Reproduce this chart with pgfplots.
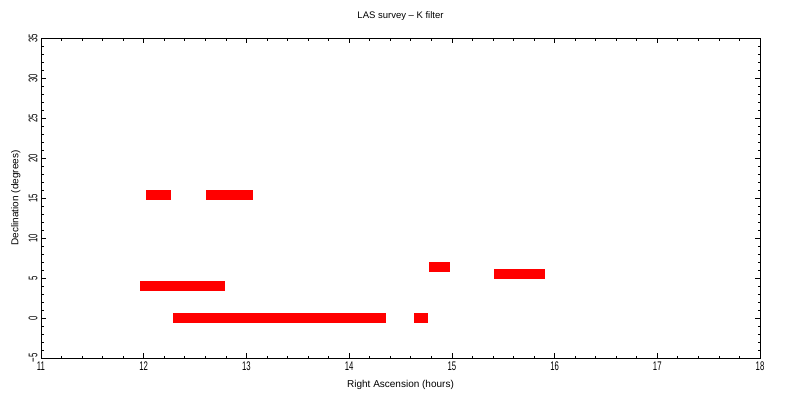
\documentclass[border=0pt]{standalone}
\usepackage{fontspec}
\setmainfont{Liberation Sans}
\newfontfamily\narrowfont[FakeStretch=0.62]{Liberation Sans}
\usepackage{pgfplots}
\pgfplotsset{compat=1.18}

\begin{document}
\begin{tikzpicture}
% bounding box matches the 800x400 reference, axis box at (41,38)-(760,358)
\path[use as bounding box] (-41pt,-42pt) rectangle (759pt,358pt);
\begin{axis}[
    scale only axis,
    width=719pt, height=320pt,
    xmin=11, xmax=18, ymin=-5, ymax=35,
    xtick={11,12,...,18},
    xticklabel={\pgfmathprintnumber[assume math mode=true]{\tick}},
    ytick={-5,0,5,10,15,20,25,30,35},
    yticklabels={−5,0,5,10,15,20,25,30,35},
    minor x tick num=4, minor y tick num=4,
    major tick length=5pt, minor tick length=2.5pt,
    tick align=inside,
    tick style={black, line width=0.7pt},
    axis line style={line width=0.8pt},
    xticklabel style={font=\narrowfont\fontsize{12.5}{12.5}\selectfont, yshift=0pt},
    yticklabel style={font=\narrowfont\fontsize{12.5}{12.5}\selectfont, rotate=90, anchor=south, xshift=0pt},
    title={LAS survey -- K filter},
    title style={font=\fontsize{9.5}{9.5}\selectfont, yshift=8pt},
    xlabel={Right Ascension (hours)},
    xlabel style={font=\fontsize{10}{10}\selectfont, at={(axis description cs:0.5,-0.084)}, anchor=center},
    ylabel={Declination (degrees)},
    ylabel style={font=\fontsize{10}{10}\selectfont, at={(axis description cs:-0.035,0.5)}, anchor=center},
  ]
  % observed fields, one row per pointing
  \addplot[only marks, mark=square*, mark size=4.5pt, mark options={fill=red, draw=red}] table {
    x     y
    12.07 15.4
    12.12 15.4
    12.17 15.4
    12.21 15.4
    12.65 15.4
    12.70 15.4
    12.75 15.4
    12.80 15.4
    12.85 15.4
    12.90 15.4
    12.95 15.4
    13.01 15.4
    12.01 4.0
    12.06 4.0
    12.11 4.0
    12.16 4.0
    12.21 4.0
    12.26 4.0
    12.31 4.0
    12.36 4.0
    12.41 4.0
    12.46 4.0
    12.51 4.0
    12.56 4.0
    12.61 4.0
    12.66 4.0
    12.71 4.0
    12.74 4.0
    12.33 0.0
    12.38 0.0
    12.43 0.0
    12.48 0.0
    12.53 0.0
    12.58 0.0
    12.63 0.0
    12.68 0.0
    12.73 0.0
    12.78 0.0
    12.83 0.0
    12.88 0.0
    12.93 0.0
    12.98 0.0
    13.03 0.0
    13.08 0.0
    13.13 0.0
    13.18 0.0
    13.23 0.0
    13.28 0.0
    13.33 0.0
    13.38 0.0
    13.43 0.0
    13.48 0.0
    13.53 0.0
    13.58 0.0
    13.63 0.0
    13.68 0.0
    13.73 0.0
    13.78 0.0
    13.83 0.0
    13.88 0.0
    13.93 0.0
    13.98 0.0
    14.03 0.0
    14.08 0.0
    14.13 0.0
    14.18 0.0
    14.23 0.0
    14.28 0.0
    14.31 0.0
    14.68 0.0
    14.72 0.0
    14.82 6.4
    14.87 6.4
    14.93 6.4
    15.46 5.5
    15.51 5.5
    15.56 5.5
    15.61 5.5
    15.66 5.5
    15.71 5.5
    15.76 5.5
    15.81 5.5
    15.86 5.5
  };
\end{axis}
\end{tikzpicture}
\end{document}
